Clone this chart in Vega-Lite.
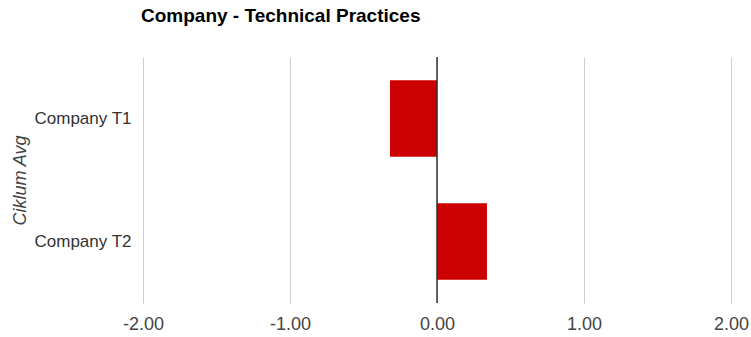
{
  "$schema": "https://vega.github.io/schema/vega-lite/v6.json",
  "autosize": {"type": "none"},
  "width": 588,
  "height": 246,
  "padding": {"left": 143, "top": 57, "right": 20, "bottom": 34},
  "background": "#ffffff",
  "title": {
    "text": "Company - Technical Practices",
    "anchor": "start",
    "frame": "group",
    "dx": -2,
    "offset": 31,
    "font": "Liberation Sans",
    "fontSize": 19,
    "fontWeight": "bold",
    "color": "#000000"
  },
  "config": {
    "view": {"stroke": null},
    "axis": {"labelFont": "Liberation Sans", "titleFont": "Liberation Sans"}
  },
  "data": {
    "values": [
      {"company": "Company T1", "avg": -0.32},
      {"company": "Company T2", "avg": 0.34}
    ]
  },
  "layer": [
    {
      "mark": {"type": "bar", "color": "#cc0000"},
      "encoding": {
        "y": {
          "field": "company",
          "type": "nominal",
          "scale": {"paddingInner": 0.38, "paddingOuter": 0.19},
          "axis": {
            "title": "Ciklum Avg",
            "titleFontStyle": "italic",
            "titleFontWeight": "normal",
            "titleFontSize": 18,
            "titleColor": "#444444",
            "titlePadding": 4,
            "labelFontSize": 17,
            "labelColor": "#333333",
            "labelPadding": 12,
            "ticks": false,
            "domain": false,
            "grid": false
          }
        },
        "x": {
          "field": "avg",
          "type": "quantitative",
          "scale": {"domain": [-2, 2], "nice": false},
          "axis": {
            "title": null,
            "values": [-2, -1, 0, 1, 2],
            "labelExpr": "datum.value < 0 ? '-' + format(-datum.value, '.2f') : format(datum.value, '.2f')",
            "labelFlush": false,
            "labelOverlap": false,
            "labelFontSize": 18,
            "labelColor": "#444444",
            "labelPadding": 12,
            "ticks": false,
            "domain": false,
            "grid": true,
            "gridColor": "#cccccc",
            "gridWidth": 1
          }
        }
      }
    },
    {
      "mark": {"type": "rule", "color": "#333333", "strokeWidth": 1},
      "encoding": {"x": {"datum": 0}}
    }
  ]
}
